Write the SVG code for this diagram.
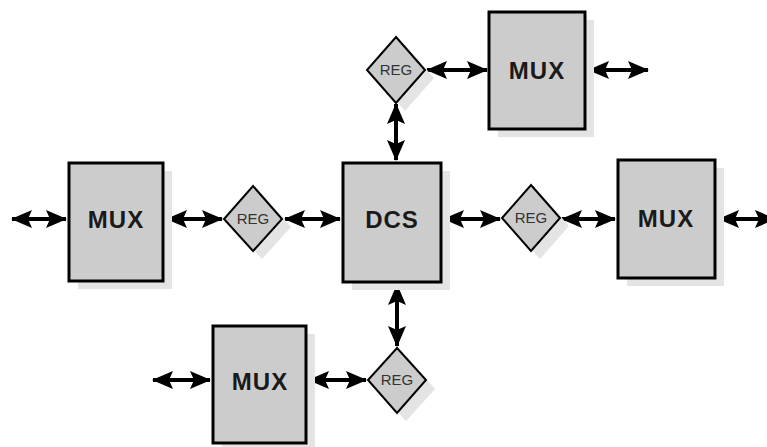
<svg xmlns="http://www.w3.org/2000/svg" width="767" height="447" viewBox="0 0 767 447">
<defs>
<style>
.shadow{fill:#e4e4e4;stroke:none}
.box{fill:#cccccc;stroke:#000;stroke-width:3}
.reg{fill:#cccccc;stroke:#000;stroke-width:2}
.big{font-family:"Liberation Sans",Arial,sans-serif;font-weight:bold;font-size:24px;fill:#1a1a1a;text-anchor:middle;letter-spacing:1px}
.small{font-family:"Liberation Sans",Arial,sans-serif;font-size:15px;fill:#333;text-anchor:middle}
.conn{stroke:#000;stroke-width:4;fill:none;marker-start:url(#ah);marker-end:url(#ah)}
</style>
<marker id="ah" viewBox="0 0 21 18" refX="20" refY="9" markerWidth="21" markerHeight="18" markerUnits="userSpaceOnUse" orient="auto-start-reverse">
<path d="M0,0 L21,9 L0,18 L4,9 z" fill="#000"/>
</marker>
</defs>
<rect width="767" height="447" fill="#ffffff"/>

<g id="connectors">
<line class="conn" x1="427" y1="70" x2="487" y2="70"/>
<line class="conn" x1="589" y1="70" x2="648" y2="70"/>
<line class="conn" x1="396" y1="104" x2="396" y2="160"/>
<line class="conn" x1="12" y1="219" x2="66" y2="219"/>
<line class="conn" x1="167" y1="219" x2="222" y2="219"/>
<line class="conn" x1="285" y1="219" x2="340" y2="219"/>
<line class="conn" x1="444" y1="219" x2="500" y2="219"/>
<line class="conn" x1="562" y1="219" x2="615" y2="219"/>
<line class="conn" x1="719" y1="219" x2="775" y2="219"/>
<line class="conn" x1="397" y1="285" x2="397" y2="346"/>
<line class="conn" x1="153" y1="380" x2="210" y2="380"/>
<line class="conn" x1="309" y1="380" x2="366" y2="380"/>
</g>

<g id="mux-top">
<rect class="shadow" x="498" y="20" width="96" height="117"/>
<rect class="box" x="489" y="12" width="96" height="117"/>
<text class="big" x="537" y="79">MUX</text>
</g>
<g id="reg-top">
<polygon class="shadow" points="405,45 434,78 405,111 376,78"/>
<polygon class="reg" points="396,37 425,70 396,103 367,70"/>
<text class="small" x="396" y="75">REG</text>
</g>
<g id="mux-left">
<rect class="shadow" x="78" y="171" width="94" height="118"/>
<rect class="box" x="69" y="163" width="94" height="118"/>
<text class="big" x="116" y="228">MUX</text>
</g>
<g id="reg-left">
<polygon class="shadow" points="262,194 291,227 262,259 233,227"/>
<polygon class="reg" points="253,186 282,219 253,251 224,219"/>
<text class="small" x="253" y="224">REG</text>
</g>
<g id="dcs">
<rect class="shadow" x="352" y="171" width="98" height="119"/>
<rect class="box" x="343" y="163" width="98" height="119"/>
<text class="big" x="392" y="228">DCS</text>
</g>
<g id="reg-right">
<polygon class="shadow" points="540,193 569,226 540,259 511,226"/>
<polygon class="reg" points="531,185 560,218 531,251 502,218"/>
<text class="small" x="531" y="223">REG</text>
</g>
<g id="mux-right">
<rect class="shadow" x="627" y="168" width="97" height="118"/>
<rect class="box" x="618" y="160" width="97" height="118"/>
<text class="big" x="666" y="227">MUX</text>
</g>
<g id="reg-bottom">
<polygon class="shadow" points="406,356 435,389 406,421 377,389"/>
<polygon class="reg" points="397,348 426,380 397,413 368,380"/>
<text class="small" x="397" y="385">REG</text>
</g>
<g id="mux-bottom">
<rect class="shadow" x="222" y="334" width="93" height="117"/>
<rect class="box" x="213" y="326" width="93" height="117"/>
<text class="big" x="260" y="390">MUX</text>
</g>
</svg>
